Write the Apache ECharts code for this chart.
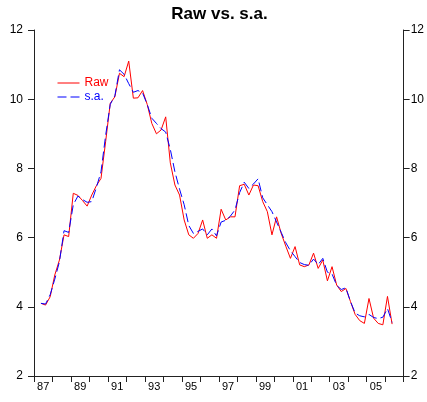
<!DOCTYPE html>
<html>
<head>
<meta charset="utf-8">
<script src="https://cdn.jsdelivr.net/npm/echarts@6/dist/echarts.min.js"></script>
<style>
html,body{margin:0;padding:0;background:#fff;}
#chart{width:427px;height:402px;}
</style>
</head>
<body>
<div id="chart"></div>
<script>
// Year categories shown on the bottom axis (one band per year)
var yearLabels = ['87','88','89','90','91','92','93','94','95','96','97','98','99','00','01','02','03','04','05','06'];
// Quarterly data, first observation 1987 Q2
var startYear = 1987;
var startQuarter = 2;
var rawValues = [
  4.10, 4.05, 4.29, 4.92, 5.35, 6.08, 6.03, 7.28, 7.22, 7.07,
  6.91, 7.23, 7.50, 7.71, 8.77, 9.88, 10.07, 10.75, 10.65, 11.10,
  10.03, 10.04, 10.25, 9.85, 9.30, 9.00, 9.11, 9.49, 8.16, 7.52,
  7.23, 6.51, 6.08, 5.98, 6.12, 6.51, 5.98, 6.08, 5.98, 6.82,
  6.51, 6.60, 6.60, 7.50, 7.54, 7.23, 7.52, 7.50, 7.04, 6.75,
  6.08, 6.60, 6.12, 5.75, 5.40, 5.74, 5.21, 5.16, 5.21, 5.55,
  5.11, 5.35, 4.75, 5.16, 4.63, 4.44, 4.53, 4.15, 3.78, 3.60,
  3.52, 4.24, 3.67, 3.52, 3.48, 4.30, 3.50
];
var saValues = [
  4.10, 4.08, 4.35, 4.80, 5.30, 6.20, 6.15, 6.95, 7.20, 7.10,
  7.02, 7.04, 7.45, 7.90, 8.95, 9.85, 10.10, 10.85, 10.72, 10.45,
  10.20, 10.25, 10.18, 9.85, 9.45, 9.30, 9.15, 9.05, 8.55, 7.90,
  7.40, 6.95, 6.35, 6.12, 6.18, 6.25, 6.08, 6.25, 6.05, 6.45,
  6.50, 6.62, 6.80, 7.30, 7.60, 7.42, 7.55, 7.70, 7.15, 6.95,
  6.75, 6.45, 6.15, 5.85, 5.62, 5.45, 5.28, 5.22, 5.20, 5.38,
  5.22, 5.40, 5.00, 4.95, 4.62, 4.50, 4.55, 4.15, 3.82, 3.74,
  3.71, 3.78, 3.69, 3.66, 3.70, 3.95, 3.55
];
var yTicks = [2, 4, 6, 8, 10, 12];

function quarterTime(i) {
  var q = (startQuarter - 1) + i;
  return startYear + Math.floor(q / 4) + (q % 4) / 4 + 0.125;
}
var rawData = rawValues.map(function (v, i) { return [quarterTime(i), v]; });
var saData = saValues.map(function (v, i) { return [quarterTime(i), v]; });

var axisColor = '#222';
var font = 'Liberation Sans, Arial, sans-serif';

var chart = echarts.init(document.getElementById('chart'), null, {renderer: 'canvas'});
chart.setOption({
  animation: false,
  backgroundColor: '#fff',
  title: {
    text: 'Raw vs. s.a.',
    left: 214.5,
    textAlign: 'center',
    top: 1,
    textStyle: {fontFamily: font, fontWeight: 'bold', fontSize: 17, color: '#000'}
  },
  legend: {
    orient: 'vertical',
    left: 52,
    top: 72,
    itemWidth: 22,
    itemHeight: 14,
    itemGap: 2,
    itemStyle: {opacity: 0},
    lineStyle: {width: 1},
    textStyle: {fontFamily: font, fontSize: 12},
    data: [
      {name: 'Raw', textStyle: {color: '#ff0000'}},
      {name: 's.a.', textStyle: {color: '#0000ff'}}
    ]
  },
  grid: {left: 34, right: 22, top: 30, bottom: 26, containLabel: false},
  xAxis: [
    {
      type: 'category',
      data: yearLabels,
      boundaryGap: true,
      position: 'bottom',
      axisLine: {show: true, lineStyle: {color: axisColor, width: 1}},
      axisTick: {show: true, interval: 0, length: 6, lineStyle: {color: axisColor}},
      axisLabel: {interval: 1, margin: 5, color: '#000', fontFamily: font, fontSize: 11},
      splitLine: {show: false}
    },
    {
      type: 'value',
      min: 1987,
      max: 2007,
      show: false,
      splitLine: {show: false}
    }
  ],
  yAxis: [
    {
      type: 'value', position: 'left', min: yTicks[0], max: yTicks[yTicks.length - 1], interval: 2,
      axisLine: {show: true, lineStyle: {color: axisColor, width: 1}},
      axisTick: {show: true, length: 6, lineStyle: {color: axisColor}},
      axisLabel: {margin: 11, color: '#000', fontFamily: font, fontSize: 12},
      splitLine: {show: false}
    },
    {
      type: 'value', position: 'right', min: yTicks[0], max: yTicks[yTicks.length - 1], interval: 2,
      axisLine: {show: true, lineStyle: {color: axisColor, width: 1}},
      axisTick: {show: true, length: 6, lineStyle: {color: axisColor}},
      axisLabel: {margin: 7, color: '#000', fontFamily: font, fontSize: 12},
      splitLine: {show: false}
    }
  ],
  series: [
    {
      name: 'Raw', type: 'line', xAxisIndex: 1, yAxisIndex: 0,
      data: rawData, symbol: 'none', showSymbol: false,
      lineStyle: {color: '#ff0000', width: 1},
      itemStyle: {color: '#ff0000'}
    },
    {
      name: 's.a.', type: 'line', xAxisIndex: 1, yAxisIndex: 0,
      data: saData, symbol: 'none', showSymbol: false,
      lineStyle: {color: '#0000ff', width: 1, type: [9, 4]},
      itemStyle: {color: '#0000ff'}
    }
  ]
});
</script>
</body>
</html>
